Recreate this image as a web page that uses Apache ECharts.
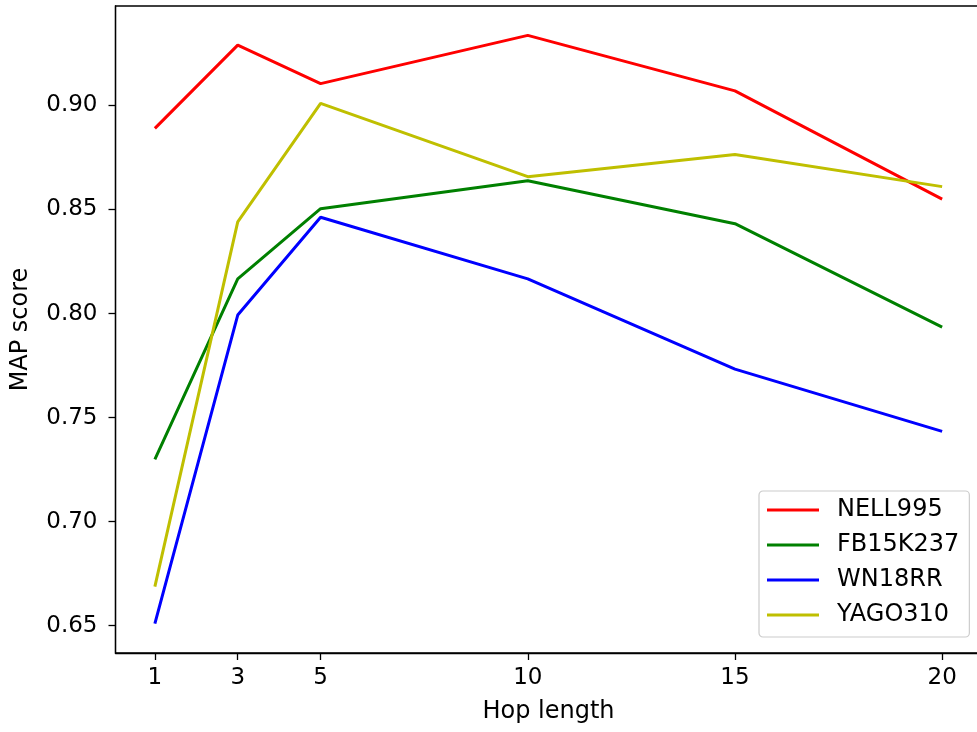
<!DOCTYPE html>
<html>
<head>
<meta charset="utf-8">
<script src="https://cdn.jsdelivr.net/npm/echarts@6/dist/echarts.min.js"></script>
<style>
  html, body { margin: 0; padding: 0; background: #fff; }
  #chart { width: 977px; height: 732px; }
</style>
</head>
<body>
<div id="chart"></div>
<script>
// hop lengths on the x axis
var hops = [1, 3, 5, 10, 15, 20];
var yTicks = [0.65, 0.70, 0.75, 0.80, 0.85, 0.90];

// MAP score per dataset
var nell995 = [0.889, 0.929, 0.9105, 0.9337, 0.907, 0.855];
var fb15k237 = [0.730, 0.8167, 0.8504, 0.8638, 0.8432, 0.7935];
var wn18rr = [0.651, 0.7993, 0.8463, 0.8167, 0.7733, 0.7434];
var yago310 = [0.6688, 0.8441, 0.901, 0.8658, 0.8764, 0.861];

var names = ['NELL995', 'FB15K237', 'WN18RR', 'YAGO310'];
var colors = ['#ff0000', '#008000', '#0000ff', '#bfbf00'];
var values = [nell995, fb15k237, wn18rr, yago310];

var font = 'DejaVu Sans';

function pairs(arr) {
    var out = [];
    for (var i = 0; i < hops.length; i++) {
        out.push([hops[i], arr[i]]);
    }
    return out;
}

var chart = echarts.init(document.getElementById('chart'));
chart.setOption({
    animation: false,
    backgroundColor: '#fff',
    grid: {
        left: 115.5,
        top: 6,
        right: -4.5,
        bottom: 79,
        outerBoundsMode: 'none',
        containLabel: false,
        show: true,
        borderColor: '#000',
        borderWidth: 1.3
    },
    legend: {
        left: 759,
        top: 491,
        orient: 'vertical',
        padding: [7, 10, 10, 8],
        itemGap: 11,
        itemWidth: 52,
        itemHeight: 3,
        icon: 'rect',
        backgroundColor: 'rgba(255,255,255,0.8)',
        borderColor: '#cccccc',
        borderWidth: 1.2,
        borderRadius: 4,
        textStyle: {
            fontFamily: font,
            fontSize: 24,
            lineHeight: 24,
            color: '#000',
            padding: [0, 0, 0, 13]
        },
        data: names
    },
    xAxis: {
        type: 'value',
        min: 0.05,
        max: 20.95,
        name: 'Hop length',
        nameLocation: 'middle',
        nameGap: 47,
        nameTextStyle: { fontFamily: font, fontSize: 24, color: '#000' },
        splitLine: { show: false },
        axisLine: { lineStyle: { color: '#000', width: 1.3 } },
        axisTick: { customValues: hops, length: 7, lineStyle: { color: '#000', width: 1.3 } },
        axisLabel: {
            customValues: hops,
            margin: 14,
            fontFamily: font,
            fontSize: 23,
            color: '#000'
        }
    },
    yAxis: {
        type: 'value',
        min: 0.6369,
        max: 0.9478,
        name: 'MAP score',
        nameLocation: 'middle',
        nameRotate: 90,
        nameGap: 83,
        nameTextStyle: { fontFamily: font, fontSize: 24, color: '#000' },
        splitLine: { show: false },
        axisLine: { lineStyle: { color: '#000', width: 1.3 } },
        axisTick: { customValues: yTicks, length: 7, lineStyle: { color: '#000', width: 1.3 } },
        axisLabel: {
            customValues: yTicks,
            margin: 18,
            fontFamily: font,
            fontSize: 23,
            color: '#000',
            formatter: function (v) { return v.toFixed(2); }
        }
    },
    series: names.map(function (n, i) {
        return {
            name: n,
            type: 'line',
            data: pairs(values[i]),
            showSymbol: false,
            symbol: 'none',
            color: colors[i],
            lineStyle: { color: colors[i], width: 3 }
        };
    })
});
</script>
</body>
</html>
